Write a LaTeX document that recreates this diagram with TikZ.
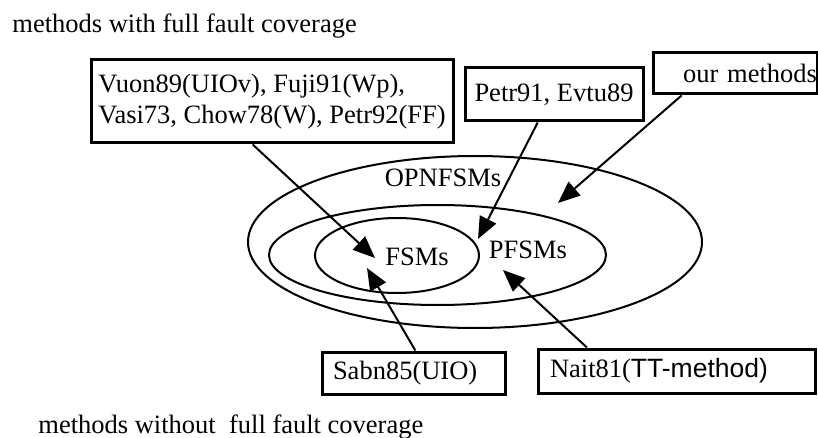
\documentclass[tikz,border=0pt]{standalone}
\usepackage{fontspec}
\setmainfont{Liberation Serif}
\newfontfamily\arialfont{Liberation Sans}
\usetikzlibrary{calc, arrows.meta}

\begin{document}
\begin{tikzpicture}[
    x=0.5pt, y=-0.5pt,
    font=\fontsize{13.25}{15.5}\selectfont,
    refbox/.style={draw, line width=1.5pt, inner ysep=0pt},
    setline/.style={line width=1pt},
    ptr/.style={line width=1pt, -{Triangle[length=11pt, width=9pt]}}
]
\useasboundingbox (0,0) rectangle (818,438);

% 1. Captions
\node[anchor=base west, inner sep=0pt] (fullcap) at (12,33) {methods with full fault coverage};
\node[anchor=base west, inner sep=0pt] (nofullcap) at (38,433) {methods without\ \ full fault coverage};

% 2. Nested classes of machines
\draw[setline] (475,242) ellipse [x radius=113.5pt, y radius=43pt];
\draw[setline] (437.5,255) ellipse [x radius=84.25pt, y radius=25pt];
\draw[setline] (397,255.5) ellipse [x radius=41pt, y radius=18.75pt];
\node (opn) at (443,178) {OPNFSMs};
\node (fsm) at (417,257) {FSMs};
\node (pfsm) at (528,250) {PFSMs};

% 3. Reference boxes
\node[refbox, minimum width=181pt, minimum height=41.5pt, align=left] (vuon) at (272,101.5)
    {Vuon89(UIOv), Fuji91(Wp),\\Vasi73, Chow78(W), Petr92(FF)};
\node[refbox, minimum width=89pt, minimum height=26.5pt] (petr) at (554,94.5) {Petr91, Evtu89};
\node[refbox, inner xsep=0pt, text width=82pt, align=right, minimum height=20.5pt] (ours) at (735,73.5) {our methods};
\node[refbox, inner xsep=5.5pt, text width=80.5pt, align=left, minimum height=21pt] (sabn) at (413.5,373) {Sabn85(UIO)};
\node[refbox, inner xsep=6pt, text width=126.5pt, align=left, minimum height=22pt] (nait) at (676.5,371)
    {Nait81({\arialfont TT-method)}};

% 4. Arrow tips inside the sets
\coordinate (fsmTip) at (375,258);
\coordinate (pfsmTip) at (478,239);
\coordinate (opnTip) at (558,203);
\coordinate (sabnTip) at (367,268);
\coordinate (naitTip) at (503,270);

% 5. Pointers
\draw[ptr] ($(vuon.south west)!0.447!(vuon.south east)$) -- (fsmTip);
\draw[ptr] ($(petr.south west)!0.41!(petr.south east)$) -- (pfsmTip);
\draw[ptr] ($(ours.south west)!0.18!(ours.south east)$) -- (opnTip);
\draw[ptr] ($(sabn.north west)!0.51!(sabn.north east)$) -- (sabnTip);
\draw[ptr] ($(nait.north west)!0.18!(nait.north east)$) -- (naitTip);

\end{tikzpicture}
\end{document}
